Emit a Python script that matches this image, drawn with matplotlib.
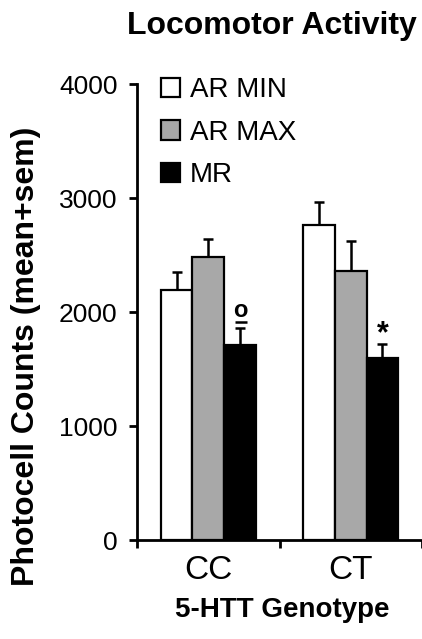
import matplotlib
matplotlib.use("Agg")
import matplotlib.pyplot as plt
import numpy as np

genotypes = ["CC", "CT"]
series = ["AR MIN", "AR MAX", "MR"]
means = {
    "AR MIN": [2190, 2763],
    "AR MAX": [2486, 2363],
    "MR": [1707, 1593],
}
sems = {
    "AR MIN": [157, 204],
    "AR MAX": [155, 263],
    "MR": [151, 123],
}
colors = {"AR MIN": "#ffffff", "AR MAX": "#a8a8a8", "MR": "#000000"}
marks = {"MR": ["o", "*"]}
yticks = [0, 1000, 2000, 3000, 4000]

plt.rcParams['font.family'] = ['Liberation Sans', 'DejaVu Sans']

W, H = 422, 639
fig = plt.figure(figsize=(W / 100, H / 100), dpi=100)
ax = fig.add_axes([137 / W, 1 - 540 / H, 285 / W, (540 - 84) / H])

centers = np.array([0.5, 1.5])
bw = 0.222
for i, s in enumerate(series):
    xs = centers + (i - 1) * bw
    ax.bar(xs, means[s], width=bw, color=colors[s], edgecolor="black",
           linewidth=1.6, label=s, zorder=2)
    ax.errorbar(xs, means[s], yerr=[np.zeros(2), sems[s]], fmt="none",
                ecolor="black", elinewidth=1.8, capsize=3.7, capthick=1.8, zorder=1)
    if s in marks:
        for x, m, e, t in zip(xs, means[s], sems[s], marks[s]):
            if t == "*":
                ax.annotate(t, (x, m + e), xytext=(0, -3.5), textcoords="offset points",
                            ha="center", va="bottom", fontsize=22, fontweight="bold")
            else:
                ax.annotate(t, (x, m + e), xytext=(0.5, 8), textcoords="offset points",
                            ha="center", va="baseline", fontsize=17, fontweight="bold")
                # underline of the "o" marker
                ax.hlines(m + e + 55, x - 0.035, x + 0.048, colors="black",
                          linewidth=1.8, zorder=3)

ax.set_xlim(0, 285 / 144)
ax.set_ylim(0, 4000)
ax.set_yticks(yticks)
ax.set_yticklabels([str(v) for v in yticks], fontsize=19)
ax.set_xticks([0, 1, 2])
ax.set_xticklabels([])
ax.set_xticks(centers, minor=True)
ax.set_xticklabels(genotypes, minor=True, fontsize=24)
ax.tick_params(axis="x", which="minor", length=0, pad=11)
ax.tick_params(axis="both", which="major", length=6, width=2, direction="out")
ax.tick_params(axis="y", pad=8)
for sp in ["top", "right"]:
    ax.spines[sp].set_visible(False)
for sp in ["left", "bottom"]:
    ax.spines[sp].set_linewidth(2)

leg = ax.legend(loc="upper left", bbox_to_anchor=(161 / W, 1 - 77 / H),
                bbox_transform=fig.transFigure, frameon=False,
                prop={"size": 20},
                handlelength=0.7, handleheight=0.7, handletextpad=0.35,
                labelspacing=0.6, borderaxespad=0, borderpad=0)

fig.text(272 / W, 1 - 26 / H, "Locomotor Activity", ha="center", va="center",
         fontsize=23, fontweight="bold")
fig.text(26 / W, 1 - 356 / H, "Photocell Counts (mean+sem)", ha="center", va="center",
         rotation=90, fontsize=23, fontweight="bold")
fig.text(282 / W, 1 - 610 / H, "5-HTT Genotype", ha="center", va="center",
         fontsize=20, fontweight="bold")

fig.savefig("out.png", dpi=100)
